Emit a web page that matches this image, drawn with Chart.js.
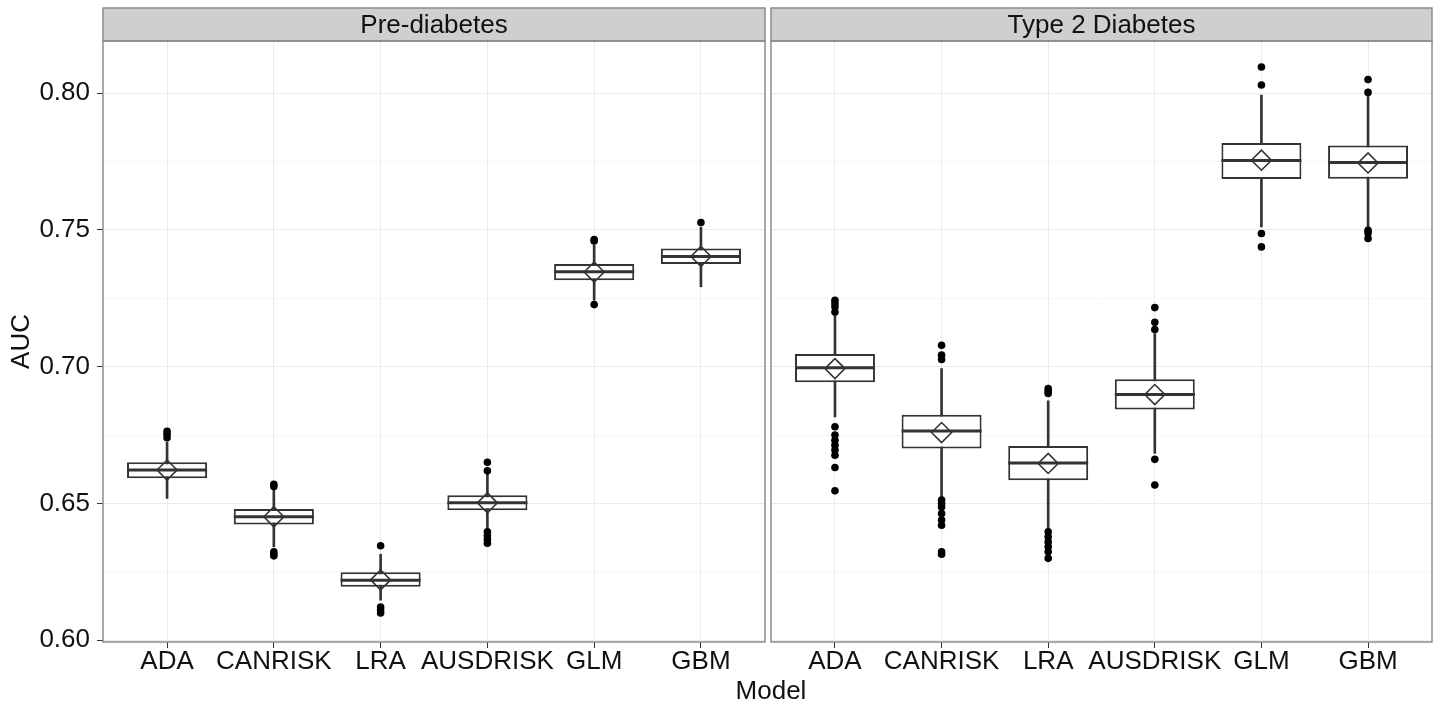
<!DOCTYPE html>
<html>
<head>
<meta charset="utf-8">
<script src="https://cdn.jsdelivr.net/npm/chart.js@4.4.1/dist/chart.umd.min.js"></script>
<style>
  body { margin: 0; background: #fff; }
  #wrap { position: relative; width: 1440px; height: 702px; overflow: hidden; }
  canvas { position: absolute; top: 0; }
  #left { left: 0; }
  #right { left: 768px; }
  #xtitle {
    position: absolute; left: 671px; width: 200px; top: 675px;
    text-align: center; font: 26px "Liberation Sans", Arial, sans-serif; color: #111;
  }
</style>
</head>
<body>
<div id="wrap">
  <canvas id="left" width="768" height="702"></canvas>
  <canvas id="right" width="672" height="702"></canvas>
  <div id="xtitle">Model</div>
</div>
<script>
const models = ['ADA', 'CANRISK', 'LRA', 'AUSDRISK', 'GLM', 'GBM'];
const yTicks = [0.60, 0.65, 0.70, 0.75, 0.80];
const yGrid = [0.60, 0.625, 0.65, 0.675, 0.70, 0.725, 0.75, 0.775, 0.80];

// Pre-diabetes
const preLower  = [0.6518, 0.6341, 0.6146, 0.6408, 0.7243, 0.7292];
const preQ1     = [0.6592, 0.6423, 0.6195, 0.6475, 0.7316, 0.7375];
const preMedian = [0.6622, 0.6451, 0.6219, 0.6502, 0.7347, 0.7403];
const preQ3     = [0.6650, 0.6479, 0.6248, 0.6530, 0.7375, 0.7432];
const preUpper  = [0.6724, 0.6548, 0.6314, 0.6611, 0.7445, 0.7510];
const preMean   = [0.6622, 0.6451, 0.6220, 0.6502, 0.7346, 0.7403];
const preOutliers = [
  [0.6764, 0.6753, 0.6740],
  [0.6570, 0.6562, 0.6323, 0.6315, 0.6308],
  [0.6345, 0.6121, 0.6110, 0.6099],
  [0.6650, 0.6619, 0.6396, 0.6382, 0.6368, 0.6354],
  [0.7465, 0.7460, 0.7227],
  [0.7527]
];

// Type 2 Diabetes
const t2dLower  = [0.6816, 0.6524, 0.6402, 0.6683, 0.7511, 0.7505];
const t2dQ1     = [0.6943, 0.6701, 0.6585, 0.6843, 0.7686, 0.7687];
const t2dMedian = [0.6996, 0.6765, 0.6648, 0.6898, 0.7754, 0.7747];
const t2dQ3     = [0.7046, 0.6824, 0.6710, 0.6954, 0.7818, 0.7809];
const t2dUpper  = [0.7188, 0.6993, 0.6875, 0.7121, 0.7993, 0.7995];
const t2dMean   = [0.6993, 0.6759, 0.6646, 0.6898, 0.7755, 0.7745];
const t2dOutliers = [
  [0.7243, 0.7231, 0.7219, 0.7200, 0.6780, 0.6750, 0.6731, 0.6713, 0.6695, 0.6676, 0.6631, 0.6546],
  [0.7078, 0.7042, 0.7026, 0.6512, 0.6500, 0.6487, 0.6463, 0.6439, 0.6420, 0.6323, 0.6314],
  [0.6920, 0.6910, 0.6902, 0.6396, 0.6378, 0.6359, 0.6341, 0.6323, 0.6299],
  [0.7216, 0.7162, 0.7136, 0.6661, 0.6567],
  [0.8096, 0.8030, 0.7487, 0.7438],
  [0.8050, 0.8003, 0.7499, 0.7489, 0.7469]
];

const FONT = '"Liberation Sans", Arial, sans-serif';
const INK = '#333333';
const isMajor = v => yTicks.some(t => Math.abs(t - v) < 1e-9);

// strip on top + grey panel border, ggplot theme_bw style
const panelPlugin = {
  id: 'panel',
  afterDraw(chart, args, opts) {
    const { ctx, chartArea: a } = chart;
    ctx.save();
    ctx.fillStyle = '#cfcfcf';
    ctx.fillRect(a.left, 8, a.right - a.left, a.top - 8);
    ctx.strokeStyle = '#8c8c8c';
    ctx.lineWidth = 1.5;
    ctx.strokeRect(a.left, 8, a.right - a.left, a.top - 8);
    ctx.strokeRect(a.left, a.top, a.right - a.left, a.bottom - a.top);
    ctx.fillStyle = '#111';
    ctx.font = '26px ' + FONT;
    ctx.textAlign = 'center';
    ctx.textBaseline = 'middle';
    ctx.fillText(opts.label, (a.left + a.right) / 2, (8 + a.top) / 2 + 1.5);
    ctx.restore();
  }
};

function makeChart(id, label, showY, padRight, lower, q1, median, q3, upper, mean, outliers) {
  const xs = models.map((m, i) => i + 1);
  return new Chart(document.getElementById(id), {
    type: 'bar',
    data: {
      datasets: [
        {
          label: 'whisker',
          data: xs.map((x, i) => ({ x: x, y: [lower[i], upper[i]] })),
          backgroundColor: INK,
          borderWidth: 0,
          barThickness: 2,
          grouped: false,
          order: 5
        },
        {
          label: 'box',
          data: xs.map((x, i) => ({ x: x, y: [q1[i], q3[i]] })),
          backgroundColor: '#ffffff',
          borderColor: INK,
          borderWidth: 2,
          borderSkipped: false,
          barPercentage: 0.75,
          categoryPercentage: 1,
          grouped: false,
          order: 4
        },
        {
          type: 'scatter',
          label: 'median',
          data: xs.map((x, i) => ({ x: x, y: median[i] })),
          pointStyle: 'line',
          pointRadius: c => {
            const s = c.chart.scales.x;
            return s.getPixelForValue(0.375) - s.getPixelForValue(0);
          },
          borderColor: INK,
          borderWidth: 3,
          order: 3
        },
        {
          type: 'scatter',
          label: 'mean',
          data: xs.map((x, i) => ({ x: x, y: mean[i] })),
          pointStyle: 'rectRot',
          pointRadius: 10,
          backgroundColor: 'rgba(0,0,0,0)',
          borderColor: INK,
          borderWidth: 1.6,
          order: 2
        },
        {
          type: 'scatter',
          label: 'outliers',
          data: outliers.flatMap((arr, i) => arr.map(v => ({ x: xs[i], y: v }))),
          pointRadius: 3.8,
          backgroundColor: '#000',
          borderWidth: 0,
          order: 1
        }
      ]
    },
    options: {
      responsive: false,
      animation: false,
      events: [],
      layout: { autoPadding: false, padding: { top: 41, right: padRight, left: 0, bottom: 0 } },
      plugins: {
        legend: { display: false },
        tooltip: { enabled: false },
        panel: { label: label }
      },
      scales: {
        x: {
          type: 'linear',
          offset: false,
          min: 0.4,
          max: 6.6,
          afterBuildTicks: s => { s.ticks = xs.map(v => ({ value: v })); },
          afterFit: s => { s.height = 60; s.paddingLeft = 0; s.paddingRight = 0; },
          ticks: {
            autoSkip: false,
            maxRotation: 0,
            padding: 1,
            color: '#111',
            font: { family: FONT, size: 26, lineHeight: 1 },
            callback: (v, i) => models[i]
          },
          grid: { offset: false, color: '#ebebeb', tickColor: INK, tickLength: 6, lineWidth: 1 },
          border: { display: false }
        },
        y: {
          min: 0.5993,
          max: 0.8191,
          afterBuildTicks: s => { s.ticks = yGrid.map(v => ({ value: v })); },
          afterFit: s => { s.width = showY ? 103 : 3; s.paddingTop = 0; s.paddingBottom = 0; },
          ticks: {
            display: showY,
            padding: 7,
            color: '#111',
            font: { family: FONT, size: 26 },
            callback: v => isMajor(v) ? v.toFixed(2) : ''
          },
          grid: {
            drawTicks: showY,
            tickLength: 6,
            color: c => isMajor(c.tick.value) ? '#ebebeb' : '#f6f6f6',
            tickColor: c => isMajor(c.tick.value) ? INK : 'rgba(0,0,0,0)'
          },
          border: { display: false },
          title: {
            display: showY,
            text: 'AUC',
            color: '#111',
            padding: { top: 6, bottom: 0 },
            font: { family: FONT, size: 26 }
          }
        }
      }
    },
    plugins: [panelPlugin]
  });
}

makeChart('left', 'Pre-diabetes', true, 3,
  preLower, preQ1, preMedian, preQ3, preUpper, preMean, preOutliers);
makeChart('right', 'Type 2 Diabetes', false, 8,
  t2dLower, t2dQ1, t2dMedian, t2dQ3, t2dUpper, t2dMean, t2dOutliers);
</script>
</body>
</html>
